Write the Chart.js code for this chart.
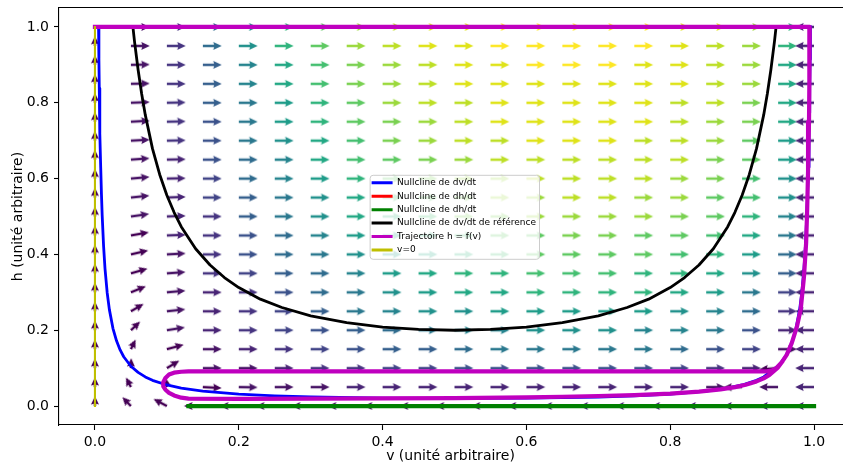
<!DOCTYPE html>
<html>
<head>
<meta charset="utf-8">
<script src="https://cdn.jsdelivr.net/npm/chart.js@4.4.1/dist/chart.umd.min.js"></script>
<style>
html,body{margin:0;padding:0;background:#ffffff;}
#wrap{width:843px;height:467px;position:relative;}
</style>
</head>
<body>
<div id="wrap"><canvas id="c" width="843" height="467"></canvas></div>
<script>
// ---------------- data ----------------
const xTicks = [0, 0.2, 0.4, 0.6, 0.8, 1.0];
const yTicks = [0, 0.2, 0.4, 0.6, 0.8, 1.0];

// quiver grid (tail positions)
const gridV = [0,0.05,0.1,0.15,0.2,0.25,0.3,0.35,0.4,0.45,0.5,0.55,0.6,0.65,0.7,0.75,0.8,0.85,0.9,0.95,1.0];
const gridH = [0,0.05,0.1,0.15,0.2,0.25,0.3,0.35,0.4,0.45,0.5,0.55,0.6,0.65,0.7,0.75,0.8,0.85,0.9,0.95,1.0];

// arrow direction on screen (degrees, counter-clockwise from right), one row per h value
const arrowAngle = [
  [90,134,152,180,180,180,180,180,180,180,180,180,180,180,180,180,180,180,180,180,180],
  [90,117,101,-3,-1,0,0,0,0,0,0,0,0,0,0,0,0,0,181,180,180],
  [90,88,31,0,0,0,0,0,0,0,0,0,0,0,0,0,0,0,0,184,180],
  [90,64,15,0,0,0,0,0,0,0,0,0,0,0,0,0,0,0,0,0,180],
  [90,43,9,0,0,0,0,0,0,0,0,0,0,0,0,0,0,0,0,0,180],
  [90,30,6,0,0,0,0,0,0,0,0,0,0,0,0,0,0,0,0,0,180],
  [90,22,5,0,0,0,0,0,0,0,0,0,0,0,0,0,0,0,0,0,180],
  [90,16,4,0,0,0,0,0,0,0,0,0,0,0,0,0,0,0,0,0,180],
  [90,13,3,0,0,0,0,0,0,0,0,0,0,0,0,0,0,0,0,0,180],
  [90,10,2,0,0,0,0,0,0,0,0,0,0,0,0,0,0,0,0,0,180],
  [90,8,2,0,0,0,0,0,0,0,0,0,0,0,0,0,0,0,0,0,180],
  [90,6,2,0,0,0,0,0,0,0,0,0,0,0,0,0,0,0,0,0,180],
  [90,5,1,0,0,0,0,0,0,0,0,0,0,0,0,0,0,0,0,0,180],
  [90,4,1,0,0,0,0,0,0,0,0,0,0,0,0,0,0,0,0,0,180],
  [90,3,1,0,0,0,0,0,0,0,0,0,0,0,0,0,0,0,0,0,180],
  [90,3,1,0,0,0,0,0,0,0,0,0,0,0,0,0,0,0,0,0,180],
  [90,2,1,0,0,0,0,0,0,0,0,0,0,0,0,0,0,0,0,0,180],
  [90,1,0,0,0,0,0,0,0,0,0,0,0,0,0,0,0,0,0,0,180],
  [90,1,0,0,0,0,0,0,0,0,0,0,0,0,0,0,0,0,0,0,180],
  [90,0,0,0,0,0,0,0,0,0,0,0,0,0,0,0,0,0,0,0,180],
  [null,0,0,0,0,0,0,0,0,0,0,0,0,0,0,0,0,0,0,0,180]
];

// arrow colour level (0 = darkest .. 20 = brightest of the colour scale), one row per h value
const arrowLevel = [
  [0,0,0,0,1,1,1,1,1,1,1,1,1,2,2,2,2,2,2,2,2],
  [0,0,0,0,1,1,1,2,2,2,2,2,2,2,2,2,2,1,0,1,2],
  [0,0,0,1,1,2,3,3,4,4,5,5,5,5,5,5,4,3,2,0,2],
  [0,0,0,1,2,3,4,5,6,6,7,8,8,8,8,8,7,5,4,1,2],
  [0,0,1,2,3,4,5,6,7,8,9,9,10,10,10,9,9,8,5,2,2],
  [0,0,1,2,3,4,6,8,9,10,10,11,11,11,11,11,10,9,7,3,2],
  [0,0,1,2,3,5,7,8,10,11,12,12,13,13,13,13,12,11,8,4,2],
  [0,0,1,3,4,6,7,9,11,12,13,13,14,14,14,13,13,12,10,6,2],
  [0,0,1,3,5,7,8,10,11,12,13,14,15,15,15,15,14,13,11,7,2],
  [0,0,2,3,5,7,9,11,12,13,14,15,15,16,16,15,15,14,12,8,2],
  [0,1,2,3,6,8,10,12,13,14,16,16,17,17,17,17,16,15,13,9,2],
  [0,1,2,4,6,8,10,12,14,15,16,17,17,18,18,17,17,15,14,10,2],
  [0,1,2,4,7,9,11,13,15,16,17,17,18,18,18,18,17,16,14,10,2],
  [0,1,2,5,7,9,12,14,15,16,17,18,18,18,18,18,18,16,15,11,2],
  [0,1,3,5,8,10,12,14,16,17,18,18,19,19,19,18,18,17,15,11,2],
  [0,1,3,5,8,11,13,15,16,17,18,19,19,19,19,19,18,17,16,12,2],
  [0,1,3,6,8,11,13,15,17,18,18,19,19,19,19,19,18,18,16,12,2],
  [0,1,3,6,9,12,14,16,17,18,19,19,19,19,19,19,19,18,17,12,2],
  [0,1,3,6,9,12,14,16,17,18,19,19,20,20,20,19,19,18,17,12,2],
  [0,1,3,7,10,13,15,17,18,19,19,20,20,20,20,20,19,18,17,13,2],
  [0,1,3,7,10,13,15,17,18,19,19,20,20,20,20,20,19,19,17,13,2]
];

// Nullcline de dv/dt (blue)
const blueV = [0.00503,0.0055,0.006,0.0065,0.007,0.008,0.009,0.01,0.012,0.014,0.017,0.02,0.025,0.03,0.035,0.04,0.05,0.06,0.07,0.08,0.1,0.12,0.15,0.2,0.25,0.3,0.4,0.5,0.6,0.7,0.75,0.8,0.85,0.88,0.9,0.92,0.93,0.95,0.96,0.965,0.97,0.975,0.98,0.983,0.986,0.988,0.99,0.991,0.992,0.993,0.9935,0.994,0.9945,0.99497];
const blueH = [1.0,0.914,0.838,0.774,0.719,0.630,0.561,0.505,0.422,0.362,0.299,0.255,0.205,0.172,0.148,0.130,0.105,0.0887,0.0768,0.0679,0.0556,0.0473,0.0392,0.03125,0.0267,0.0238,0.0208,0.02,0.0208,0.0238,0.0267,0.03125,0.0392,0.0473,0.0556,0.0679,0.0768,0.105,0.130,0.148,0.172,0.205,0.255,0.299,0.362,0.422,0.505,0.561,0.630,0.719,0.774,0.838,0.914,1.0];

// Nullcline de dh/dt (red) and (green)
const redV = [0, 0.13];
const redH = [1.0, 1.0];
const greenV = [0.13, 1.0];
const greenH = [0.0, 0.0];

// Nullcline de dv/dt de référence (black)
const blackV = [0.0528,0.055,0.06,0.065,0.07,0.08,0.09,0.1,0.11,0.12,0.14,0.16,0.18,0.2,0.23,0.26,0.3,0.35,0.4,0.45,0.5,0.55,0.6,0.65,0.7,0.74,0.77,0.8,0.82,0.84,0.86,0.88,0.89,0.9,0.91,0.92,0.93,0.935,0.94,0.945,0.9472];
const blackH = [1.0,0.962,0.887,0.823,0.768,0.679,0.611,0.556,0.511,0.473,0.415,0.372,0.339,0.3125,0.282,0.260,0.238,0.220,0.208,0.202,0.2,0.202,0.208,0.220,0.238,0.260,0.282,0.3125,0.339,0.372,0.415,0.473,0.511,0.556,0.611,0.679,0.768,0.823,0.887,0.962,1.0];

// Trajectoire h = f(v) (magenta)
const trajV = [0,0.994,0.9935,0.993,0.9917,0.9905,0.989,0.986,0.9815,0.976,0.969,0.962,0.955,0.948,0.942,0.935,0.9,0.7,0.5,0.3,0.13,0.12,0.11,0.103,0.098,0.095,0.095,0.098,0.103,0.11,0.12,0.13,0.2,0.3,0.4,0.5,0.6,0.65,0.7,0.75,0.8,0.84,0.87,0.89,0.905,0.92,0.93,0.938,0.944,0.95,0.955];
const trajH = [1.0,1.0,0.85,0.75,0.62,0.52,0.43,0.34,0.255,0.208,0.166,0.135,0.115,0.101,0.094,0.0915,0.0912,0.0912,0.0912,0.0912,0.0912,0.0905,0.088,0.083,0.074,0.063,0.052,0.043,0.035,0.028,0.022,0.0195,0.019,0.0195,0.02,0.021,0.023,0.0245,0.0265,0.029,0.033,0.038,0.044,0.05,0.056,0.065,0.073,0.082,0.092,0.102,0.115];

// v=0 (olive)
const zeroV = [0, 0];
const zeroH = [0, 1.0];

const seriesLabels = ['Nullcline de dv/dt','Nullcline de dh/dt','Nullcline de dh/dt','Nullcline de dv/dt de référence','Trajectoire h = f(v)','v=0'];

// ---------------- style ----------------
const viridis = ['#440154','#471365','#482475','#463480','#414487','#3b528b','#355f8d','#2f6c8e','#2a788e','#25848e','#21918c','#1e9c89','#22a884','#2fb47c','#44bf70','#5ec962','#7ad151','#9bd93c','#bddf26','#dfe318','#fde725'];
const ARROW_LEN = 0.0262;           // arrow length in data units
const legendBoxAt = [0.382, 0.61];  // legend frame top-left corner (data units)
const FONT = "'DejaVu Sans', 'Liberation Sans', sans-serif";

function pts(xs, ys) { return xs.map((x, i) => ({x: x, y: ys[i]})); }

const quiverPts = [];
arrowAngle.forEach((row, i) => row.forEach((a, j) => {
  if (a !== null) quiverPts.push({x: gridV[j], y: gridH[i], a: a, c: arrowLevel[i][j]});
}));

const arrowCache = {};
function arrowCanvas(color, len) {
  const key = color + '|' + len.toFixed(1);
  if (arrowCache[key]) return arrowCache[key];
  const half = Math.ceil(len) + 3;
  const cv = document.createElement('canvas');
  cv.width = half * 2; cv.height = 16;
  const g = cv.getContext('2d');
  let s = 1;
  if (len < 8.5) s = len / 8.5;
  const hl = 8.5 * s, hal = 7.6 * s, hw = 3.9 * s, sw = 1.25 * s;
  g.translate(half, 8);
  g.beginPath();
  g.moveTo(0, -sw);
  g.lineTo(len - hal, -sw);
  g.lineTo(len - hl, -hw);
  g.lineTo(len, 0);
  g.lineTo(len - hl, hw);
  g.lineTo(len - hal, sw);
  g.lineTo(0, sw);
  g.closePath();
  g.fillStyle = color;
  g.fill();
  arrowCache[key] = cv;
  return cv;
}
function screenLen(chart, a) {
  const xs = chart.scales.x, ys = chart.scales.y;
  if (!xs || !ys) return 0;
  const pxX = Math.abs(xs.getPixelForValue(1) - xs.getPixelForValue(0));
  const pxY = Math.abs(ys.getPixelForValue(1) - ys.getPixelForValue(0));
  if (!pxX || !pxY) return 0;
  const r = a * Math.PI / 180;
  return ARROW_LEN / Math.hypot(Math.cos(r) / pxX, Math.sin(r) / pxY);
}

function lineDs(label, xs, ys, color, width, order) {
  return {label: label, data: pts(xs, ys), showLine: true, borderColor: color, backgroundColor: color,
    borderWidth: width, pointRadius: 0, borderCapStyle: 'square', borderJoinStyle: 'round',
    tension: 0, order: order, clip: false};
}

function drawLegendFrame(chart) {
  const f = chart.$legendFrame;
  if (!f) return;
  const ctx = chart.ctx;
  ctx.save();
  ctx.font = '9px ' + FONT;
  let w = 0;
  seriesLabels.forEach(t => { w = Math.max(w, ctx.measureText(t).width); });
  const right = f.textX + w + 3;
  ctx.beginPath();
  ctx.roundRect(f.left + 0.5, f.top + 0.5, right - f.left, f.height, 3);
  ctx.fillStyle = 'rgba(255,255,255,0.8)';
  ctx.fill();
  ctx.strokeStyle = '#cccccc';
  ctx.lineWidth = 1;
  ctx.stroke();
  ctx.restore();
}
function setLegendLayer(chart) {
  const lg = chart.legend;
  if (!lg) return;
  lg._layers = function () {
    return [{z: 10, draw: function () { drawLegendFrame(chart); lg.draw(); }}];
  };
}
const legendPlugin = {
  id: 'legendPlace',
  afterInit(chart) { setLegendLayer(chart); },
  beforeUpdate(chart) { setLegendLayer(chart); },
  afterLayout(chart) {
    const lg = chart.legend;
    if (!lg) return;
    const bl = chart.scales.x.getPixelForValue(legendBoxAt[0]);
    const bt = chart.scales.y.getPixelForValue(legendBoxAt[1]);
    lg.left = bl - 2.5; lg.top = bt - 1;
    lg.width = 220; lg.height = 100;
    lg.right = lg.left + lg.width; lg.bottom = lg.top + lg.height;
    chart.$legendFrame = {left: bl, top: bt, height: 84, textX: bl - 2.5 + 4.5 + 21 + 4.5};
  }
};

Chart.defaults.font.family = FONT;
Chart.defaults.color = '#000000';

const datasets = [
  lineDs(seriesLabels[0], blueV, blueH, '#0000ff', 2.8, 6),
  lineDs(seriesLabels[1], redV, redH, '#ff0000', 2.8, 5),
  lineDs(seriesLabels[2], greenV, greenH, '#008000', 4.2, 4),
  lineDs(seriesLabels[3], blackV, blackH, '#000000', 2.8, 3),
  lineDs(seriesLabels[4], trajV, trajH, '#bf00bf', 4.2, 2),
  lineDs(seriesLabels[5], zeroV, zeroH, '#bfbf00', 2.1, 1),
  {
    label: 'quiver', data: quiverPts, showLine: false, order: 10, clip: false,
    pointRadius: 1, pointHoverRadius: 1, pointBorderWidth: 0,
    pointStyle: (ctx) => {
      const p = ctx.raw;
      if (!p) return 'circle';
      const len = screenLen(ctx.chart, p.a);
      if (!len) return 'circle';
      return arrowCanvas(viridis[p.c], len);
    },
    rotation: (ctx) => (ctx.raw ? -ctx.raw.a : 0)
  }
];

const axisCommon = {
  type: 'linear',
  grid: {display: true, drawOnChartArea: false, drawTicks: true, tickLength: 5, tickWidth: 1.1, tickColor: '#000000'},
  border: {display: true, color: '#000000', width: 1.1}
};

new Chart(document.getElementById('c'), {
  type: 'scatter',
  data: {datasets: datasets},
  plugins: [legendPlugin],
  options: {
    responsive: false,
    animation: false,
    devicePixelRatio: 1,
    events: [],
    layout: {padding: {top: 8, right: 0, bottom: 0, left: 0}},
    plugins: {
      tooltip: {enabled: false},
      legend: {
        display: true,
        position: 'chartArea',
        align: 'start',
        labels: {
          font: {size: 9, family: FONT},
          color: '#000000',
          boxWidth: 21,
          boxHeight: 3,
          padding: 4.45,
          generateLabels: (chart) => chart.data.datasets
            .map((d, i) => ({text: d.label, fillStyle: d.borderColor, strokeStyle: d.borderColor,
              lineWidth: 0, hidden: false, datasetIndex: i, fontColor: '#000000'}))
            .filter(it => it.text !== 'quiver')
        }
      }
    },
    scales: {
      x: Object.assign({}, axisCommon, {
        position: 'bottom',
        min: -0.05, max: 1.0389,
        afterFit: (s) => { s.height = 42; s.paddingLeft = 0; s.paddingRight = 0; },
        afterBuildTicks: (s) => { s.ticks = xTicks.map(v => ({value: v})); },
        ticks: {font: {size: 14}, padding: 4, includeBounds: false, callback: (v) => Number(v).toFixed(1)},
        title: {display: true, text: 'v (unité arbitraire)', font: {size: 14}, padding: {top: 0, bottom: 2}}
      }),
      y: Object.assign({}, axisCommon, {
        position: 'left',
        min: -0.05, max: 1.05,
        afterFit: (s) => { s.width = 59; s.paddingTop = 0; s.paddingBottom = 0; },
        afterBuildTicks: (s) => { s.ticks = yTicks.map(v => ({value: v})); },
        ticks: {font: {size: 14}, padding: 5, includeBounds: false, callback: (v) => Number(v).toFixed(1)},
        title: {display: true, text: 'h (unité arbitraire)', font: {size: 14}, padding: {top: 10, bottom: 0}}
      }),
      x2: {
        type: 'linear', position: 'top', min: -0.05, max: 1.0389,
        afterFit: (s) => { s.height = 0; s.paddingLeft = 0; s.paddingRight = 0; },
        ticks: {display: false},
        grid: {display: false, drawTicks: false},
        border: {display: true, color: '#000000', width: 1.1},
        title: {display: false}
      }
    }
  }
});
</script>
</body>
</html>
